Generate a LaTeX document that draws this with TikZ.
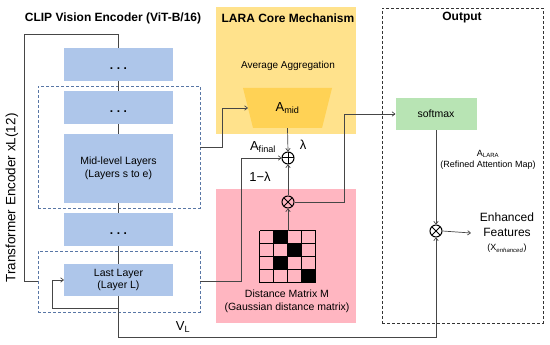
\documentclass[tikz,border=0pt]{standalone}
\usepackage{fontspec}
\setmainfont{Liberation Sans}
\usetikzlibrary{arrows.meta}
\definecolor{layerblue}{RGB}{174,198,234}
\definecolor{grpblue}{RGB}{88,118,165}
\definecolor{coreyellow}{RGB}{255,226,140}
\definecolor{amidyellow}{RGB}{255,210,85}
\definecolor{distpink}{RGB}{255,182,193}
\definecolor{softgreen}{RGB}{184,228,180}
\definecolor{wiregray}{RGB}{70,70,70}
\begin{document}
\begin{tikzpicture}[x=1pt, y=-1pt, font=\fontsize{10.5}{12.6}\selectfont,
    >={To[length=3.5pt,width=5pt]},
    wire/.style={draw=wiregray, line width=0.7pt},
    layer/.style={fill=layerblue, minimum width=109pt, minimum height=33pt, align=center, inner sep=0pt},
    group/.style={draw=grpblue, densely dashed, line width=0.8pt, minimum width=162pt},
    title/.style={font=\fontsize{12}{14}\selectfont\bfseries},
    sym/.style={font=\fontsize{13}{15}\selectfont},
    dots/.style={layer, font=\large\bfseries, text height=11pt, text depth=0pt},
    opcircle/.style={circle, draw=black, line width=1pt, minimum size=12pt, inner sep=0pt},
    addop/.style={opcircle, path picture={\draw[line width=1pt] (path picture bounding box.north) -- (path picture bounding box.south) (path picture bounding box.west) -- (path picture bounding box.east);}},
    mulop/.style={opcircle, path picture={\draw[line width=1pt] (path picture bounding box.north west) -- (path picture bounding box.south east) (path picture bounding box.north east) -- (path picture bounding box.south west);}}]
    \useasboundingbox (0,0) rectangle (550,345);

    \node[fill=coreyellow, minimum width=140pt, minimum height=127pt] (core) at (286,70.5) {};
    \node[fill=distpink, minimum width=140pt, minimum height=134pt] (dist) at (286,256) {};
    \node[draw=black!80, densely dashed, line width=0.8pt, minimum width=161pt, minimum height=315pt] (out) at (462.5,165.5) {};

    \node[title] (enctitle) at (113,18) {CLIP Vision Encoder (ViT-B/16)};
    \node[title] (coretitle) at (288,18) {LARA Core Mechanism};
    \node[title] (outtitle) at (462,18) {Output};
    \node[rotate=90, font=\fontsize{13.5}{15}\selectfont] (enclabel) at (12,198) {Transformer Encoder xL(12)};

    \node[group, minimum height=122pt] (midgrp) at (119,147) {};
    \node[group, minimum height=61pt] (lastgrp) at (119,281.5) {};

    \node[dots] (dots1) at (118.5,64.5) {.\hspace{3.5pt}.\hspace{3.5pt}.};
    \node[dots] (dots2) at (118.5,107.5) {.\hspace{3.5pt}.\hspace{3.5pt}.};
    \node[layer, minimum height=69pt] (midlayers) at (118.5,168.5) {Mid-level Layers\\(Layers s to e)};
    \node[dots] (dots3) at (118.5,229.5) {.\hspace{3.5pt}.\hspace{3.5pt}.};
    \node[layer, minimum height=32pt] (lastlayer) at (118.5,280) {Last Layer\\(Layer L)};

    \node[font=\fontsize{10}{12}\selectfont] (avgagg) at (288,66) {Average Aggregation};
    \fill[amidyellow] (243,88) -- (332,88) -- (322,128) -- (253,128) -- cycle;
    \node[sym, minimum width=79pt, minimum height=40pt, inner sep=0pt] (amid) at (287.5,108) {A\textsubscript{mid}};

    \node[addop] (add) at (288,158) {};
    \node[mulop] (mul1) at (288,202) {};
    \node[mulop] (mul2) at (436,231) {};

    \node[minimum width=56pt, minimum height=52pt, inner sep=0pt] (dmat) at (288,257) {};
    \foreach \c/\r in {1/0,2/1,1/2,3/3}
        \fill ([xshift=\c*14pt, yshift=-\r*13pt]dmat.north west) rectangle ++(14,13);
    \foreach \i in {0,...,4} {
        \draw[line width=0.8pt] (dmat.north west) ++(\i*14,0) -- ++(0,52);
        \draw[line width=0.8pt] (dmat.north west) ++(0,\i*13) -- ++(56,0);
    }
    \node[align=center] (distlabel) at (287,301) {Distance Matrix M\\(Gaussian distance matrix)};

    \node[fill=softgreen, minimum width=81pt, minimum height=32pt] (soft) at (436,114) {softmax};
    \node[font=\fontsize{9}{11}\selectfont, align=center] (alara) at (488,160) {A\textsubscript{LARA}\\(Refined Attention Map)};
    \node[align=center, font=\fontsize{12}{15}\selectfont, inner xsep=9pt] (enh) at (507,233) {Enhanced\\Features\\[-1pt]{\fontsize{9}{11}\selectfont(X\textsubscript{\textit{enhanced}})}};

    \node[sym] (afinal) at (263,147) {A\textsubscript{final}};
    \node[sym] (lam) at (303,145) {λ};
    \node[sym] (onelam) at (260,177) {1−λ};
    \node[sym] (vl) at (183,327) {V\textsubscript{L}};

    \coordinate (enctop) at (24,34);
    \coordinate (loopc) at (52,308);
    \coordinate (vlc) at (118.5,337);
    \coordinate (midc) at (222,108);
    \coordinate (lastc) at (241,158);
    \coordinate (softc) at (344,114);

    \draw[wire] (lastgrp.west) -| (enctop) -| (dots1.north);
    \draw[wire] (dots1.south) -- (dots2.north) (dots2.south) -- (midlayers.north)
        (midlayers.south) -- (dots3.north) (dots3.south) -- (lastlayer.north);
    \draw[wire, ->] (lastlayer.south) |- (loopc) |- (lastlayer.west);
    \draw[wire, ->] (lastlayer.south) -- (vlc) -| (mul2.south);
    \draw[wire, ->] (midgrp.east) -| (midc) -- (amid.west);
    \draw[wire, ->] (lastgrp.east) -| (lastc) -- (add.west);
    \draw[wire, ->] (amid.south) -- (add.north);
    \draw[wire, ->] (mul1.north) -- (add.south);
    \draw[wire, ->] (dmat.north) -- (mul1.south);
    \draw[wire, ->] (mul1.east) -| (softc) -- (soft.west);
    \draw[wire, ->] (soft.south) -- (mul2.north);
    \draw[wire, ->] (mul2.east) -- (enh.west);
\end{tikzpicture}
\end{document}
